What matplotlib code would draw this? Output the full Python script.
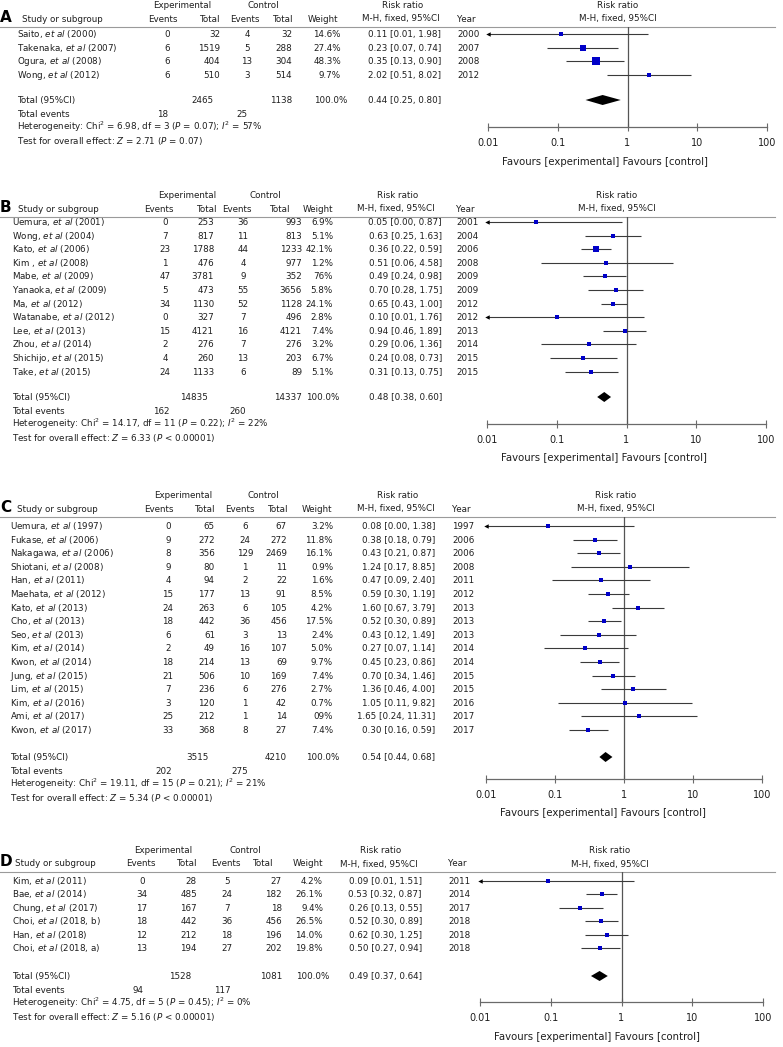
import numpy as np
import matplotlib
matplotlib.use("Agg")
import matplotlib.pyplot as plt
from matplotlib.ticker import NullLocator

plt.rcParams['font.family'] = ['DejaVu Sans']
plt.rcParams['mathtext.fontset'] = 'dejavusans'

# ---------------- data ----------------
tick_values = [0.01, 0.1, 1, 10, 100]
tick_labels = ["0.01", "0.1", "1", "10", "100"]

# Panel A
a_authors = ["Saito", "Takenaka", "Ogura", "Wong"]
a_cite = ["2000", "2007", "2008", "2012"]
a_exp_events = [0, 6, 6, 6]
a_exp_total = [32, 1519, 404, 510]
a_ctl_events = [4, 5, 13, 3]
a_ctl_total = [32, 288, 304, 514]
a_weight = [14.6, 27.4, 48.3, 9.7]
a_weight_label = ["14.6%", "27.4%", "48.3%", "9.7%"]
a_rr = [0.11, 0.23, 0.35, 2.02]
a_lo = [0.01, 0.07, 0.13, 0.51]
a_hi = [1.98, 0.74, 0.90, 8.02]
a_year = [2000, 2007, 2008, 2012]
a_totals = [2465, 1138]
a_total_events = [18, 25]
a_pooled = [0.44, 0.25, 0.80]
a_het = ["6.98", "3", "= 0.07", "57"]
a_test = ["2.71", "= 0.07"]

# Panel B
b_authors = ["Uemura", "Wong", "Kato", "Kim ", "Mabe", "Yanaoka", "Ma", "Watanabe",
             "Lee", "Zhou", "Shichijo", "Take"]
b_cite = ["2001", "2004", "2006", "2008", "2009", "2009", "2012", "2012", "2013",
          "2014", "2015", "2015"]
b_exp_events = [0, 7, 23, 1, 47, 5, 34, 0, 15, 2, 4, 24]
b_exp_total = [253, 817, 1788, 476, 3781, 473, 1130, 327, 4121, 276, 260, 1133]
b_ctl_events = [36, 11, 44, 4, 9, 55, 52, 7, 16, 7, 13, 6]
b_ctl_total = [993, 813, 1233, 977, 352, 3656, 1128, 496, 4121, 276, 203, 89]
b_weight = [6.9, 5.1, 42.1, 1.2, 7.6, 5.8, 24.1, 2.8, 7.4, 3.2, 6.7, 5.1]
b_weight_label = ["6.9%", "5.1%", "42.1%", "1.2%", "76%", "5.8%", "24.1%", "2.8%",
                  "7.4%", "3.2%", "6.7%", "5.1%"]
b_rr = [0.05, 0.63, 0.36, 0.51, 0.49, 0.70, 0.65, 0.10, 0.94, 0.29, 0.24, 0.31]
b_lo = [0.00, 0.25, 0.22, 0.06, 0.24, 0.28, 0.43, 0.01, 0.46, 0.06, 0.08, 0.13]
b_hi = [0.87, 1.63, 0.59, 4.58, 0.98, 1.75, 1.00, 1.76, 1.89, 1.36, 0.73, 0.75]
b_year = [2001, 2004, 2006, 2008, 2009, 2009, 2012, 2012, 2013, 2014, 2015, 2015]
b_totals = [14835, 14337]
b_total_events = [162, 260]
b_pooled = [0.48, 0.38, 0.60]
b_het = ["14.17", "11", "= 0.22", "22"]
b_test = ["6.33", "< 0.00001"]

# Panel C
c_authors = ["Uemura", "Fukase", "Nakagawa", "Shiotani", "Han", "Maehata", "Kato", "Cho",
             "Seo", "Kim", "Kwon", "Jung", "Lim", "Kim", "Ami", "Kwon"]
c_cite = ["1997", "2006", "2006", "2008", "2011", "2012", "2013", "2013", "2013", "2014",
          "2014", "2015", "2015", "2016", "2017", "2017"]
c_exp_events = [0, 9, 8, 9, 4, 15, 24, 18, 6, 2, 18, 21, 7, 3, 25, 33]
c_exp_total = [65, 272, 356, 80, 94, 177, 263, 442, 61, 49, 214, 506, 236, 120, 212, 368]
c_ctl_events = [6, 24, 129, 1, 2, 13, 6, 36, 3, 16, 13, 10, 6, 1, 1, 8]
c_ctl_total = [67, 272, 2469, 11, 22, 91, 105, 456, 13, 107, 69, 169, 276, 42, 14, 27]
c_weight = [3.2, 11.8, 16.1, 0.9, 1.6, 8.5, 4.2, 17.5, 2.4, 5.0, 9.7, 7.4, 2.7, 0.7, 0.9, 7.4]
c_weight_label = ["3.2%", "11.8%", "16.1%", "0.9%", "1.6%", "8.5%", "4.2%", "17.5%", "2.4%",
                  "5.0%", "9.7%", "7.4%", "2.7%", "0.7%", "09%", "7.4%"]
c_rr = [0.08, 0.38, 0.43, 1.24, 0.47, 0.59, 1.60, 0.52, 0.43, 0.27, 0.45, 0.70, 1.36, 1.05,
        1.65, 0.30]
c_lo = [0.00, 0.18, 0.21, 0.17, 0.09, 0.30, 0.67, 0.30, 0.12, 0.07, 0.23, 0.34, 0.46, 0.11,
        0.24, 0.16]
c_hi = [1.38, 0.79, 0.87, 8.85, 2.40, 1.19, 3.79, 0.89, 1.49, 1.14, 0.86, 1.46, 4.00, 9.82,
        11.31, 0.59]
c_year = [1997, 2006, 2006, 2008, 2011, 2012, 2013, 2013, 2013, 2014, 2014, 2015, 2015, 2016,
          2017, 2017]
c_totals = [3515, 4210]
c_total_events = [202, 275]
c_pooled = [0.54, 0.44, 0.68]
c_het = ["19.11", "15", "= 0.21", "21"]
c_test = ["5.34", "< 0.00001"]

# Panel D
d_authors = ["Kim", "Bae", "Chung", "Choi", "Han", "Choi"]
d_cite = ["2011", "2014", "2017", "2018, b", "2018", "2018, a"]
d_exp_events = [0, 34, 17, 18, 12, 13]
d_exp_total = [28, 485, 167, 442, 212, 194]
d_ctl_events = [5, 24, 7, 36, 18, 27]
d_ctl_total = [27, 182, 18, 456, 196, 202]
d_weight = [4.2, 26.1, 9.4, 26.5, 14.0, 19.8]
d_weight_label = ["4.2%", "26.1%", "9.4%", "26.5%", "14.0%", "19.8%"]
d_rr = [0.09, 0.53, 0.26, 0.52, 0.62, 0.50]
d_lo = [0.01, 0.32, 0.13, 0.30, 0.30, 0.27]
d_hi = [1.51, 0.87, 0.55, 0.89, 1.25, 0.94]
d_year = [2011, 2014, 2017, 2018, 2018, 2018]
d_totals = [1528, 1081]
d_total_events = [94, 117]
d_pooled = [0.49, 0.37, 0.64]
d_het = ["4.75", "5", "= 0.45", "0"]
d_test = ["5.16", "< 0.00001"]

panels = [
    dict(letter="A", authors=a_authors, cite=a_cite, ee=a_exp_events, et=a_exp_total,
         ce=a_ctl_events, ct=a_ctl_total, w=a_weight, wl=a_weight_label, rr=a_rr, lo=a_lo,
         hi=a_hi, year=a_year, totals=a_totals, tev=a_total_events, pooled=a_pooled,
         het=a_het, test=a_test),
    dict(letter="B", authors=b_authors, cite=b_cite, ee=b_exp_events, et=b_exp_total,
         ce=b_ctl_events, ct=b_ctl_total, w=b_weight, wl=b_weight_label, rr=b_rr, lo=b_lo,
         hi=b_hi, year=b_year, totals=b_totals, tev=b_total_events, pooled=b_pooled,
         het=b_het, test=b_test),
    dict(letter="C", authors=c_authors, cite=c_cite, ee=c_exp_events, et=c_exp_total,
         ce=c_ctl_events, ct=c_ctl_total, w=c_weight, wl=c_weight_label, rr=c_rr, lo=c_lo,
         hi=c_hi, year=c_year, totals=c_totals, tev=c_total_events, pooled=c_pooled,
         het=c_het, test=c_test),
    dict(letter="D", authors=d_authors, cite=d_cite, ee=d_exp_events, et=d_exp_total,
         ce=d_ctl_events, ct=d_ctl_total, w=d_weight, wl=d_weight_label, rr=d_rr, lo=d_lo,
         hi=d_hi, year=d_year, totals=d_totals, tev=d_total_events, pooled=d_pooled,
         het=d_het, test=d_test),
]

# ---------------- layout (pixels) ----------------
layouts = [
    dict(top=5, row0=34, step=13.6, total=100, axis=127, fav=162,
         name_x=17, study_x=22, ee_x=167, et_x=220, ce_x=247, ct_x=292, w_x=341, rr_x=441,
         year_x=457, h_ee=163, h_et=220, h_ce=245, h_ct=293, h_w=323, h_mh=362,
         exp_x=182, ctl_x=263, f0=488, f1=767, sq=1.25),
    dict(top=195, row0=222, step=13.6, total=397, axis=424, fav=458,
         name_x=12, study_x=18, ee_x=165, et_x=214, ce_x=243, ct_x=302, w_x=333, rr_x=442,
         year_x=456, h_ee=159, h_et=217, h_ce=237, h_ct=290, h_w=318, h_mh=357,
         exp_x=187, ctl_x=265, f0=487, f1=766, sq=0.9),
    dict(top=495, row0=526, step=13.6, total=757, axis=779, fav=813,
         name_x=10, study_x=17, ee_x=168, et_x=215, ce_x=245, ct_x=287, w_x=333, rr_x=435,
         year_x=452, h_ee=159, h_et=215, h_ce=240, h_ct=288, h_w=317, h_mh=357,
         exp_x=183, ctl_x=263, f0=486, f1=762, sq=0.95),
    dict(top=850, row0=881, step=13.4, total=976, axis=1002, fav=1037,
         name_x=12, study_x=15, ee_x=142, et_x=197, ce_x=227, ct_x=282, w_x=323, rr_x=422,
         year_x=448, h_ee=141, h_et=197, h_ce=226, h_ct=273, h_w=308, h_mh=340,
         exp_x=163, ctl_x=245, f0=480, f1=763, sq=0.95),
]

W, H = 783, 1047
DPI = 100
FS = 6.3
TXT = "#1e1e1e"
BL = 3.0  # baseline offset from row centre

fig = plt.figure(figsize=(W / DPI, H / DPI), dpi=DPI)
tax = fig.add_axes([0, 0, 1, 1])
tax.set_xlim(0, W)
tax.set_ylim(H, 0)
tax.axis("off")


def t(x, y, s, ha="left", fs=FS, **kw):
    tax.text(x, y + BL, s, ha=ha, va="baseline", fontsize=fs, color=TXT, **kw)


def fmt_rr(r, l, h):
    return f"{r:.2f} [{l:.2f}, {h:.2f}]"


for P, L in zip(panels, layouts):
    top = L["top"]
    h2 = top + 13.5
    line_y = top + 22
    # panel letter
    tax.text(0, h2 - 1 + 4, P["letter"], fontsize=11, fontweight="bold", color="black",
             va="baseline", ha="left")
    # headers
    t(L["exp_x"], top, "Experimental", ha="center")
    t(L["ctl_x"], top, "Control", ha="center")
    t(L["h_mh"] + 41, top, "Risk ratio", ha="center")
    t(L["f0"] + 130, top, "Risk ratio", ha="center")
    t(L["study_x"], h2, "Study or subgroup")
    t(L["h_ee"], h2, "Events", ha="center")
    t(L["h_et"], h2, "Total", ha="right")
    t(L["h_ce"], h2, "Events", ha="center")
    t(L["h_ct"], h2, "Total", ha="right")
    t(L["h_w"], h2, "Weight", ha="center")
    t(L["h_mh"], h2, "M-H, fixed, 95%CI")
    t(L["year_x"], h2, "Year")
    t(L["f0"] + 130, h2, "M-H, fixed, 95%CI", ha="center")
    tax.plot([0, 775], [line_y, line_y], color="#9a9a9a", lw=0.8)

    n = len(P["rr"])
    ys = [L["row0"] + i * L["step"] for i in range(n)]
    for i, y in enumerate(ys):
        t(L["name_x"], y, f"{P['authors'][i]}, $\\it{{et\\ al}}$ ({P['cite'][i]})")
        t(L["ee_x"], y, str(P["ee"][i]), ha="center")
        t(L["et_x"], y, str(P["et"][i]), ha="right")
        t(L["ce_x"], y, str(P["ce"][i]), ha="center")
        t(L["ct_x"], y, str(P["ct"][i]), ha="right")
        t(L["w_x"], y, P["wl"][i], ha="right")
        t(L["rr_x"], y, fmt_rr(P["rr"][i], P["lo"][i], P["hi"][i]), ha="right")
        t(L["year_x"], y, str(P["year"][i]))

    ty = L["total"]
    t(L["name_x"], ty, "Total (95%CI)")
    t(L["et_x"] - 6, ty, str(P["totals"][0]), ha="right")
    t(L["ct_x"], ty, str(P["totals"][1]), ha="right")
    t(L["w_x"] + 6, ty, "100.0%", ha="right")
    t(L["rr_x"], ty, fmt_rr(*P["pooled"]), ha="right")
    t(L["name_x"], ty + 13.6, "Total events")
    t(L["ee_x"] - 4, ty + 13.6, str(P["tev"][0]), ha="center")
    t(L["ce_x"] - 5, ty + 13.6, str(P["tev"][1]), ha="center")
    chi, df, pv, i2 = P["het"]
    t(L["name_x"], ty + 27.2,
      f"Heterogeneity: Chi$^2$ = {chi}, df = {df} ($P$ {pv}); $I^2$ = {i2}%")
    z, pz = P["test"]
    t(L["name_x"], ty + 40.8, f"Test for overall effect: $Z$ = {z} ($P$ {pz})")

    # forest axes in pixel rows
    ax = fig.add_axes([L["f0"] / W, 1 - L["axis"] / H, (L["f1"] - L["f0"]) / W,
                       (L["axis"] - line_y) / H])
    ax.set_xscale("log")
    ax.set_xlim(0.01, 100)
    ax.set_ylim(L["axis"], line_y)
    ax.patch.set_alpha(0)
    for s in ("left", "right", "top"):
        ax.spines[s].set_visible(False)
    ax.spines["bottom"].set_color("#6a6a6a")
    ax.spines["bottom"].set_linewidth(0.9)
    ax.set_yticks([])
    ax.set_xticks(tick_values)
    ax.set_xticklabels(tick_labels)
    ax.xaxis.set_minor_locator(NullLocator())
    ax.tick_params(axis="x", direction="inout", length=6, width=0.8, colors="#6a6a6a",
                   labelcolor=TXT, labelsize=7, pad=5)
    ax.axvline(1, color="#555555", lw=0.9)

    for i, y in enumerate(ys):
        lo = max(P["lo"][i], 0.01)
        ax.plot([lo, P["hi"][i]], [y, y], color="#3a3a3a", lw=0.8, solid_capstyle="butt")
        if P["lo"][i] <= 0.01:
            ax.plot([0.01], [y], marker="<", ms=3.2, color="black", clip_on=False,
                    markeredgewidth=0)
        px = max(3.2, L["sq"] * np.sqrt(P["w"][i]))
        ax.scatter([P["rr"][i]], [y], marker="s", s=(px * 72 / DPI) ** 2, color="#0000C8",
                   linewidths=0, zorder=3)
    pr, pl, ph = P["pooled"]
    ax.fill([pl, pr, ph, pr], [ty, ty - 5, ty, ty + 5], color="black", lw=0, zorder=3)

    tax.text(L["f0"] + 117, L["fav"] + 3, "Favours [experimental] Favours [control]",
             ha="center", va="baseline", fontsize=7.3, color=TXT)

fig.savefig("out.png", dpi=DPI)
